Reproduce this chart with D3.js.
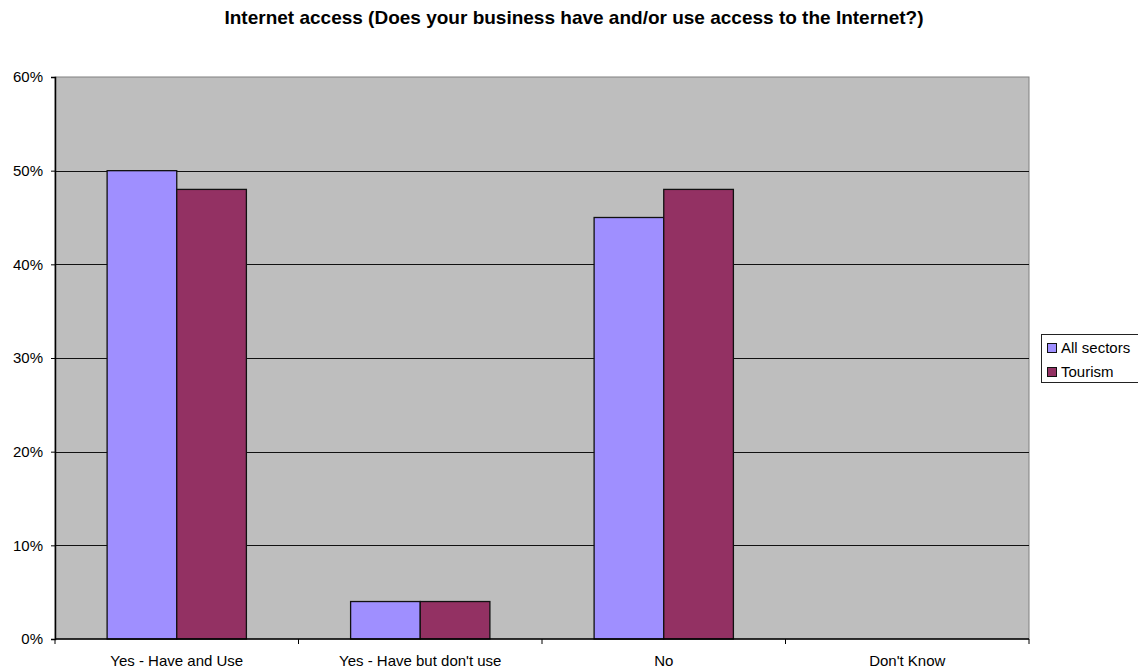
<!DOCTYPE html>
<html>
<head>
<meta charset="utf-8">
<script src="https://cdn.jsdelivr.net/npm/d3@7"></script>
<style>
  body { margin: 0; background: #fff; }
  text { font-family: "Liberation Sans", Arial, sans-serif; fill: #000; }
</style>
</head>
<body>
<div class="canvas"></div>
<script>
// chart data
var categories = ["Yes - Have and Use", "Yes - Have but don't use", "No", "Don't Know"];
var seriesNames = ["All sectors", "Tourism"];
var allSectors = [50, 4, 45, 0];
var tourism = [48, 4, 48, 0];
var yTicks = [0, 10, 20, 30, 40, 50, 60];
var colors = ["#9f8fff", "#933163"];

var width = 1138, height = 670;
var margin = {top: 77, right: 109, bottom: 31, left: 55};

var svg = d3.select('.canvas').append('svg')
  .attr('width', width)
  .attr('height', height);

var plotW = width - margin.left - margin.right;
var plotH = height - margin.top - margin.bottom;

var grp = svg.append('g')
  .attr('transform', 'translate(' + [margin.left, margin.top] + ')');

var x0 = d3.scaleBand().domain(categories).range([0, plotW]).padding(0);
var gap = x0.bandwidth() * 0.214;
var x1 = d3.scaleBand().domain(seriesNames).range([gap, x0.bandwidth() - gap]).padding(0);
var y = d3.scaleLinear().domain([0, 60]).range([plotH, 0]);

// plot background
grp.append('rect')
  .attr('width', plotW)
  .attr('height', plotH)
  .attr('fill', '#bebebe')
  .attr('stroke', '#808080')
  .attr('stroke-width', 1);

// gridlines
grp.selectAll('line.grid')
  .data(yTicks.filter(d => d > 0 && d < 60))
  .enter()
  .append('line')
  .attr('x1', 0).attr('x2', plotW)
  .attr('y1', d => Math.round(y(d)) + 0.5)
  .attr('y2', d => Math.round(y(d)) + 0.5)
  .attr('stroke', '#111')
  .attr('stroke-width', 1);

// bars
var rows = categories.map(function (c, i) {
  return {cat: c, values: [allSectors[i], tourism[i]]};
});

var catG = grp.selectAll('g.cat')
  .data(rows)
  .enter()
  .append('g')
  .attr('transform', d => 'translate(' + x0(d.cat) + ',0)');

catG.selectAll('rect')
  .data(d => d.values.map((v, j) => ({name: seriesNames[j], v: v, j: j})).filter(d => d.v > 0))
  .enter()
  .append('rect')
  .attr('x', d => x1(d.name))
  .attr('y', d => y(d.v))
  .attr('width', x1.bandwidth())
  .attr('height', d => plotH - y(d.v))
  .attr('fill', d => colors[d.j])
  .attr('stroke', '#111')
  .attr('stroke-width', 1.3);

// y axis
var yAxis = d3.axisLeft(y)
  .tickValues(yTicks)
  .tickFormat(d => d + '%')
  .tickSize(4)
  .tickPadding(8);

var yg = grp.append('g').call(yAxis);
yg.select('.domain').attr('stroke', '#000').attr('stroke-width', 1.5);
yg.selectAll('.tick line').attr('stroke', '#000');
yg.selectAll('text').style('font-size', '15px').attr('fill', '#222');

// x axis
var xg = grp.append('g')
  .attr('transform', 'translate(0,' + plotH + ')');

xg.append('line')
  .attr('x1', 0).attr('x2', plotW)
  .attr('y1', 0).attr('y2', 0)
  .attr('stroke', '#000')
  .attr('stroke-width', 1.5);

xg.selectAll('line.tk')
  .data(d3.range(categories.length + 1))
  .enter()
  .append('line')
  .attr('x1', i => i * x0.step())
  .attr('x2', i => i * x0.step())
  .attr('y1', 0).attr('y2', 5)
  .attr('stroke', '#000');

xg.selectAll('text')
  .data(categories)
  .enter()
  .append('text')
  .attr('x', d => x0(d) + x0.bandwidth() / 2)
  .attr('y', 27)
  .attr('text-anchor', 'middle')
  .style('font-size', '15px')
  .attr('fill', '#222')
  .text(d => d);

// title
svg.append('text')
  .attr('x', 574)
  .attr('y', 24)
  .attr('text-anchor', 'middle')
  .style('font-size', '19px')
  .style('font-weight', 'bold')
  .text('Internet access (Does your business have and/or use access to the Internet?)');

// legend
var legend = svg.append('g').attr('transform', 'translate(1041,334)');
legend.append('rect')
  .attr('x', 0.5).attr('y', 0.5)
  .attr('width', 100).attr('height', 48)
  .attr('fill', '#fff')
  .attr('stroke', '#222');

seriesNames.forEach(function (s, i) {
  legend.append('rect')
    .attr('x', 6.5).attr('y', 9.5 + i * 24)
    .attr('width', 9).attr('height', 9)
    .attr('fill', colors[i])
    .attr('stroke', '#111');
  legend.append('text')
    .attr('x', 20)
    .attr('y', 19 + i * 24)
    .style('font-size', '15px')
    .text(s);
});
</script>
</body>
</html>
